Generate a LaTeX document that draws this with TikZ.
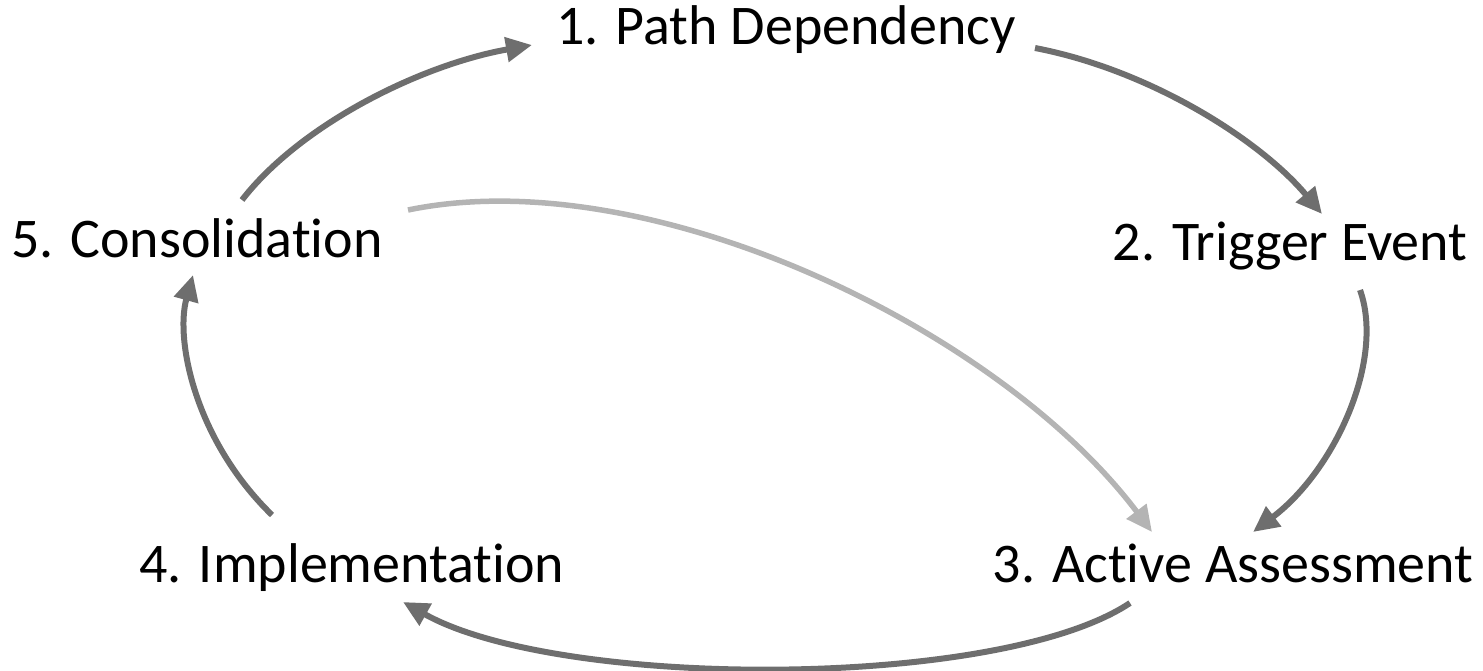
\documentclass[tikz,border=0pt]{standalone}
\usepackage{fontspec}
\setmainfont{Carlito}[RawFeature=-liga]
\usetikzlibrary{arrows.meta}
\definecolor{arr}{HTML}{6E6E6E}
\definecolor{arrlight}{HTML}{B4B4B4}
\begin{document}
\begin{tikzpicture}[x=1pt,y=-1pt,
  lbl/.style={anchor=base,inner sep=0pt,font=\fontsize{56}{66}\selectfont},
  cyc/.style={draw=arr,line width=6pt,-{Triangle[length=26pt,width=24pt]}},
  cyclight/.style={draw=arrlight,line width=5.5pt,-{Triangle[length=26pt,width=24pt]}}]
\useasboundingbox (0,0) rectangle (1483,671);
\node[lbl] (n1) at (786,45) {1. Path Dependency};
\node[lbl] (n2) at (1290,260) {2. Trigger Event};
\node[lbl] (n3) at (1233,582) {3. Active Assessment};
\node[lbl] (n4) at (352,582) {4. Implementation};
\node[lbl] (n5) at (197,258) {5. Consolidation};
\coordinate (a1s) at (242,200); \coordinate (a1e) at (532,45);
\coordinate (a2s) at (1035,48); \coordinate (a2e) at (1322,214);
\coordinate (a3s) at (1360,290); \coordinate (a3e) at (1253,532);
\coordinate (a4s) at (1130,603); \coordinate (a4e) at (403,602);
\coordinate (a5s) at (272,515); \coordinate (a5e) at (193,275);
\coordinate (a6s) at (408,210); \coordinate (a6e) at (1152,532);
\draw[cyc] (a1s) .. controls (300,125) and (420,65) .. (a1e);
\draw[cyc] (a2s) .. controls (1150,70) and (1260,140) .. (a2e);
\draw[cyc] (a3s) .. controls (1385,360) and (1335,470) .. (a3e);
\draw[cyc] (a4s) .. controls (1000,690) and (560,690) .. (a4e);
\draw[cyc] (a5s) .. controls (195,440) and (175,340) .. (a5e);
\draw[cyclight] (a6s) .. controls (650,160) and (1000,330) .. (a6e);
\end{tikzpicture}
\end{document}
